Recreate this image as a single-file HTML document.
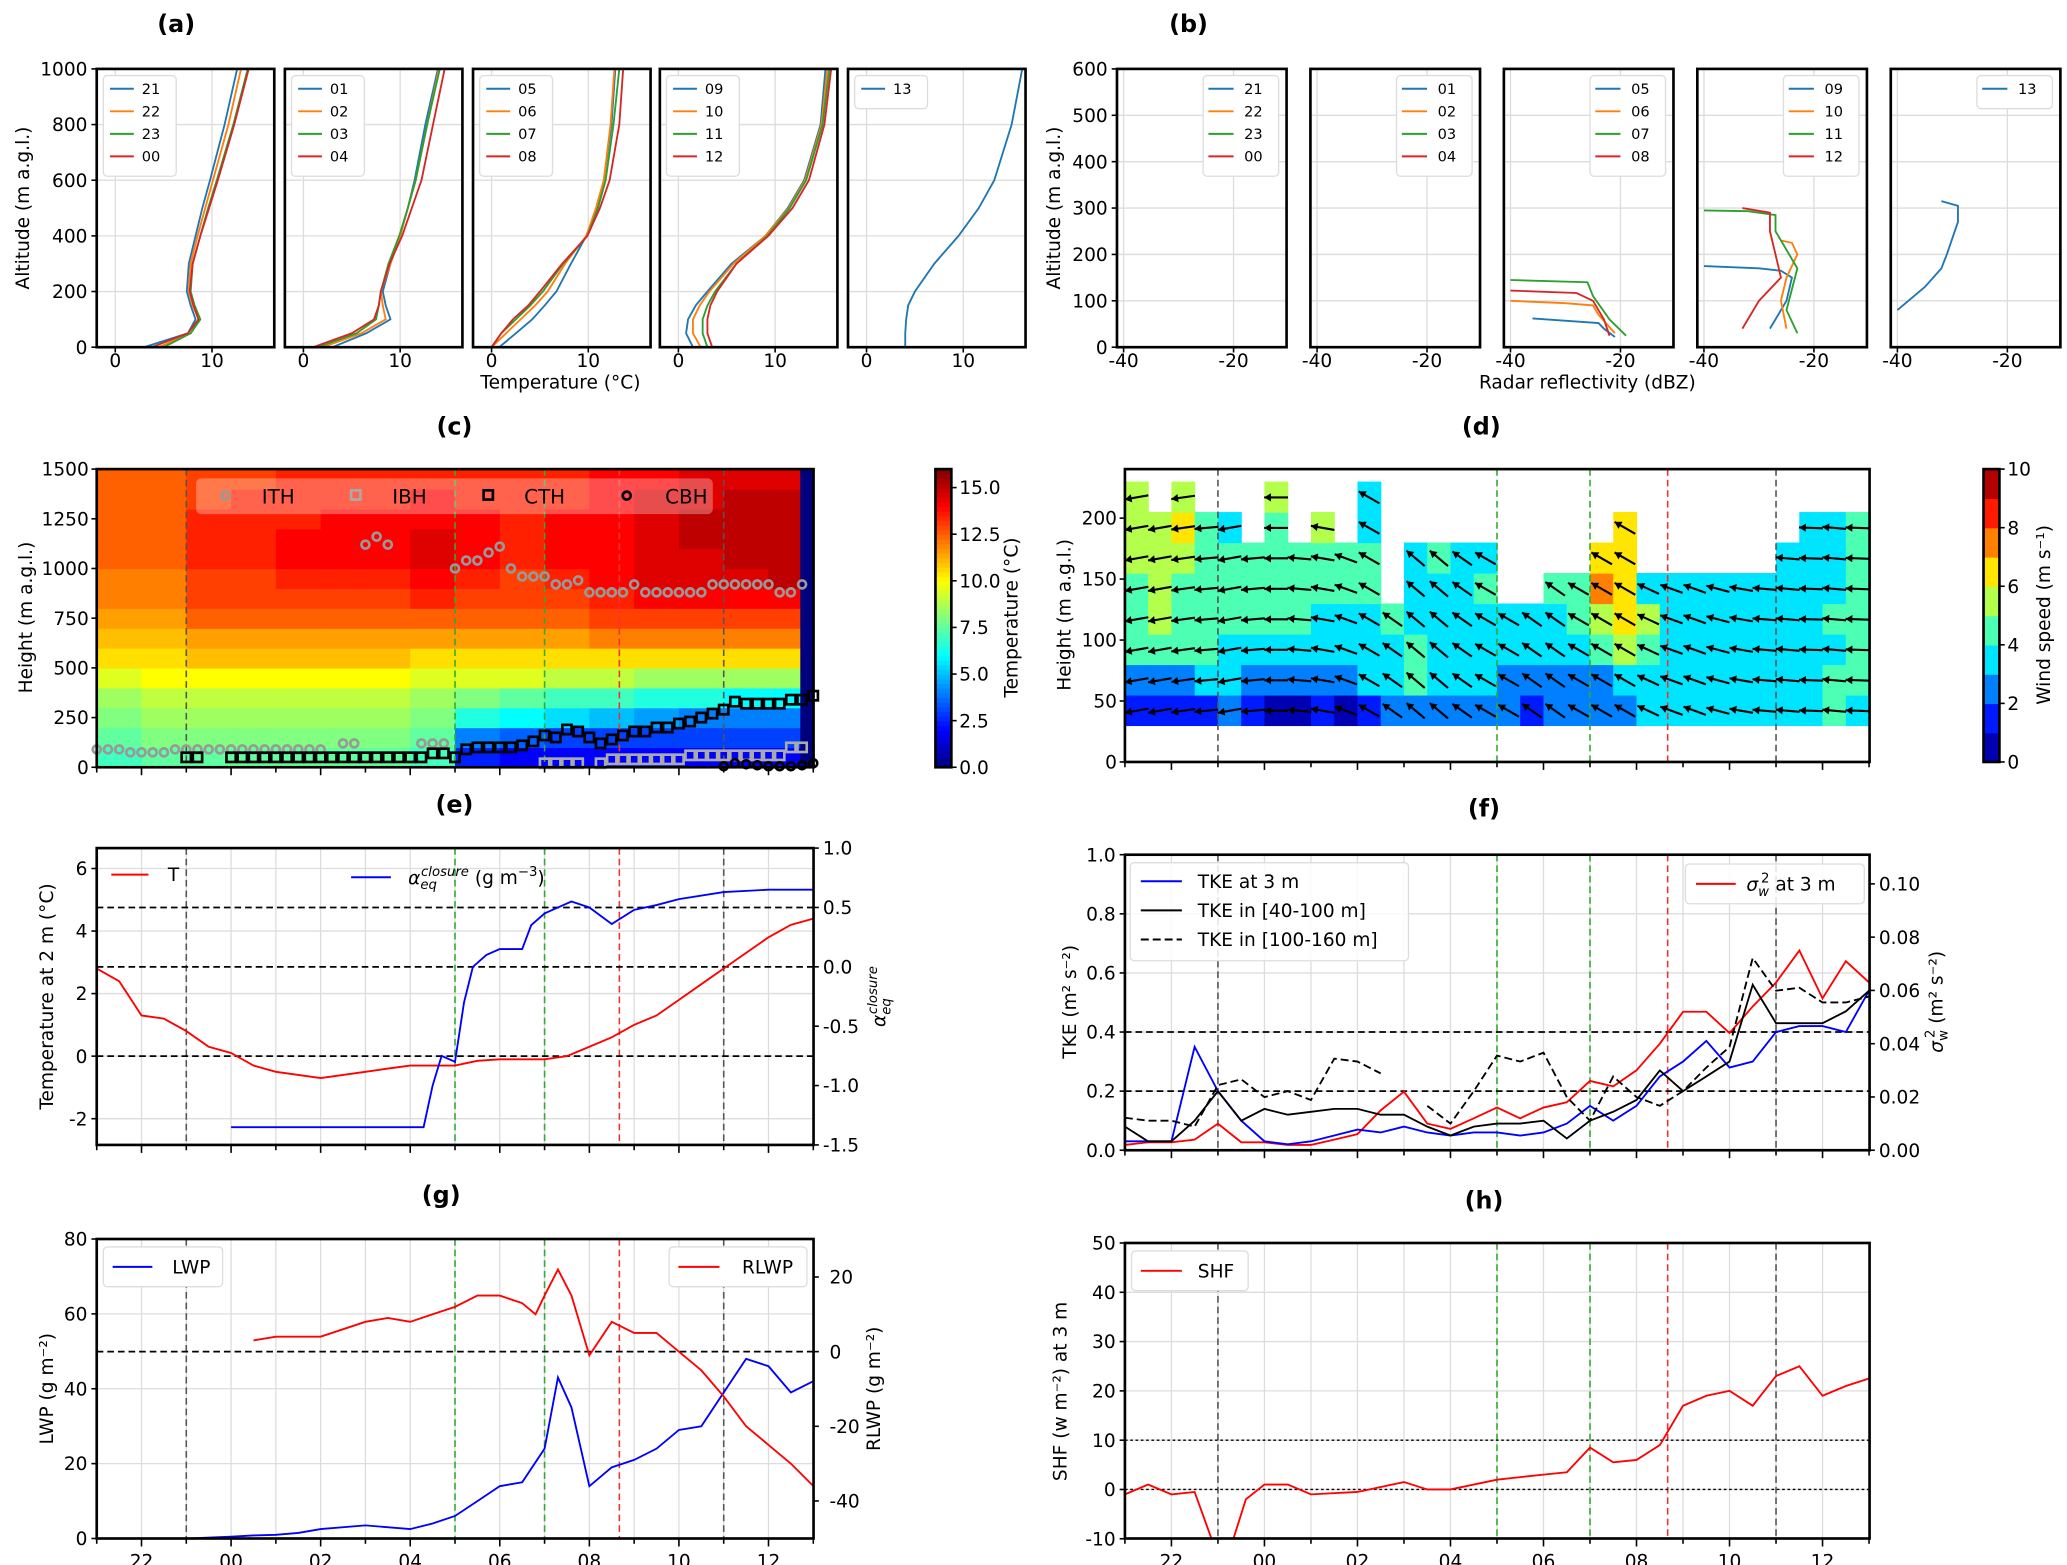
<!DOCTYPE html>
<html><head><meta charset="utf-8"><style>
html,body{margin:0;padding:0;background:#fff;}
svg{display:block;font-family:"DejaVu Sans","Liberation Sans",sans-serif;}
</style></head><body>
<svg id="chart" width="2067" height="1565" viewBox="0 0 1560 1181" preserveAspectRatio="none" xmlns="http://www.w3.org/2000/svg"></svg>
<script>
// ---------- data ----------
const aAlt=[0,50,100,150,200,300,400,500,600,800,1000];
const aLabels=[["21","22","23","00"],["01","02","03","04"],["05","06","07","08"],["09","10","11","12"],["13"]];
const aProf=[
 [[3,7.5,8.3,7.8,7.4,7.6,8.3,9,9.8,11.3,12.6],[4.5,7.8,8.6,8,7.6,7.8,8.5,9.3,10.1,11.7,13],[5,7.8,8.8,8.2,7.8,8,8.8,9.6,10.5,12.2,13.7],[3.8,7.5,8.6,8.1,7.7,8,8.8,9.7,10.6,12.3,13.8]],
 [[3,6.5,9,8.5,8.2,9,10,10.8,11.5,12.6,13.9],[2,6,8.5,8.2,8,9,10,10.8,11.6,12.8,14],[1.5,5.5,7.5,7.8,8,8.8,9.9,10.8,11.6,12.8,14.1],[1,5,7.3,7.8,8,8.9,10.2,11.2,12.2,13.4,14.6]],
 [[0.8,2.5,4.2,5.5,6.7,8.2,9.8,10.9,11.6,12.4,12.8],[0,1.5,3,4.5,5.8,7.6,9.8,10.8,11.6,12.3,12.7],[0,1,2.5,4,5.3,7.4,9.9,11,11.8,12.6,13.2],[0,1,2.2,3.8,5,7.3,9.9,11.2,12.2,13.2,13.6]],
 [[1.5,0.8,1,1.8,3,5.5,9,11.3,13,14.7,15.2],[2.3,1.5,1.5,2.2,3.2,5.7,9,11.4,13.1,14.8,15.4],[3,2.5,2.5,3,3.8,6,9.2,11.5,13.2,14.9,15.6],[3.5,3,3,3.3,4,6,9.3,11.8,13.5,15.1,15.8]],
 [[4,4,4.1,4.3,5,7,9.5,11.6,13.2,15,16.1]]
];
const bProf=[[],[],
 [[[-36,62],[-24,52],[-23,40],[-21,22]],[[-40,100],[-30,95],[-25,90],[-24,70],[-21,30]],[[-40,145],[-26,140],[-25,110],[-22,60],[-19,25]],[[-40,122],[-28,117],[-25,100],[-23,60],[-22,25]]],
 [[[-40,175],[-30,170],[-26,165],[-24,150],[-25,100],[-28,40]],[[-26,230],[-24,225],[-23,200],[-25,150],[-26,100],[-25,40]],[[-40,295],[-32,293],[-27,285],[-27,250],[-23,170],[-25,80],[-23,30]],[[-33,300],[-28,290],[-28,250],[-27,200],[-26,150],[-30,100],[-33,40]]],
 [[[-32,315],[-29,305],[-29,270],[-31,200],[-32,170],[-35,130],[-40,80]]]
];
// (c) temperature grid: rows bottom-up (100 m), columns hourly from 21:00
const cT=[
[7,7.5,7.5,7.5,7.5,7.5,7.5,7,2.5,2,2,2,2,2,2,2],
[7.5,8,8,8,8,8,8,7.5,4,3.5,3,3,3,3,3,3],
[8,8.5,8.5,8.5,8.5,8.5,8.5,8,6.5,6,5.5,5,4.5,4,4,4],
[8.5,9,9,9,9,9,9,8.5,8,7.5,7,7,6.5,6.5,6,6],
[9.5,10,10,10,10,10,10,9.5,9.5,9.5,9,9,8.5,8.5,8.5,8.5],
[10.5,10.5,11,11,11,11,11,10.5,10.5,10.5,10.5,10.5,10.5,10.5,10.5,10.5],
[11,11,11.5,11.5,11.5,11.5,11.5,11.5,11.5,11.5,11.5,12,12,12,12,12],
[11.5,11.5,12.5,12.5,12.5,12.5,12.5,12.5,12.5,12.5,12.5,13,13,13,13,13],
[12,12,13,13,13,13,13,13.5,13,13,13,13.5,14,14,14,14],
[12,12,13,13,13.5,13.5,13.5,14,13.5,13,13.5,14,14.5,14.5,14.5,15],
[12.5,12.5,13.5,13.5,14,14,14,14.5,14,13.5,14,14,14.5,14.5,15,15],
[12.5,12.5,13.5,13.5,14,14,14,14.5,14,13.5,14,14,14.5,15,15,15],
[12.5,12.5,13.5,13.5,13.5,14,14,14,14,13.5,14,14,14.5,15,15,15],
[12.5,12.5,13,13.5,13.5,13.5,13.5,14,13.5,13.5,13.5,14,14.5,14.5,15,15],
[12.5,12.5,13,13,13.5,13.5,13.5,13.5,13.5,13.5,13.5,14,14,14.5,14.5,14.5]];
const ithT=[21,21.25,21.5,21.75,22,22.25,22.5,22.75,23,23.25,23.5,23.75,0,0.25,0.5,0.75,1,1.25,1.5,1.75,2,2.5,2.75,3,3.25,3.5,4.25,4.5,4.75,5,5.25,5.5,5.75,6,6.25,6.5,6.75,7,7.25,7.5,7.75,8,8.25,8.5,8.75,9,9.25,9.5,9.75,10,10.25,10.5,10.75,11,11.25,11.5,11.75,12,12.25,12.5,12.75];
const ithH=[90,90,90,75,75,75,75,90,90,90,90,90,90,90,90,90,90,90,90,90,90,120,120,1120,1160,1120,120,120,120,1000,1040,1040,1080,1110,1000,960,960,960,920,920,940,880,880,880,880,920,880,880,880,880,880,880,920,920,920,920,920,920,880,880,920];
const ibhT=[7,7.25,7.5,7.75,8.25,8.5,8.75,9,9.25,9.5,9.75,10,10.25,10.5,10.75,11,11.25,11.5,11.75,12,12.25,12.5,12.75];
const ibhH=[20,20,20,20,20,40,40,40,40,40,40,40,60,60,60,60,60,60,60,60,60,100,100];
const cthT=[23,23.25,0,0.25,0.5,0.75,1,1.25,1.5,1.75,2,2.25,2.5,2.75,3,3.25,3.5,3.75,4,4.25,4.5,4.75,5,5.25,5.5,5.75,6,6.25,6.5,6.75,7,7.25,7.5,7.75,8,8.25,8.5,8.75,9,9.25,9.5,9.75,10,10.25,10.5,10.75,11,11.25,11.5,11.75,12,12.25,12.5,12.75,13];
const cthH=[50,50,50,50,50,50,50,50,50,50,50,50,50,50,50,50,50,50,50,50,70,70,50,90,100,100,100,100,110,130,160,150,190,180,150,120,140,160,180,180,200,200,220,230,250,270,290,330,320,320,320,320,340,340,360];
const cbhT=[11,11.25,11.5,11.75,12,12.25,12.5,12.75,13];
const cbhH=[5,20,15,10,5,5,5,10,20];
// (d) wind speed: 30 min columns from 21:00, 25 m bands from 30 m (-1 = no data)
const dSpd=[
[1.5,2.5,4.5,4.5,4.5,5.5,5.5,5.5],[1.5,2.5,4.5,5.5,5.5,5.5,5.5,-1],[1.5,2.5,4.5,4.5,4.5,5.5,6.5,5.5],[1.5,3.5,4.5,4.5,4.5,4.5,4.5,-1],
[2.5,3.5,3.5,4.5,4.5,4.5,3.5,-1],[1.5,2.5,3.5,4.5,4.5,4.5,-1,-1],[0.5,2.5,3.5,4.5,4.5,4.5,4.5,5.5],[0.5,2.5,3.5,4.5,4.5,4.5,-1,-1],
[1.5,2.5,3.5,3.5,4.5,4.5,5.5,-1],[0.5,2.5,3.5,3.5,4.5,4.5,-1,-1],[1.5,3.5,3.5,3.5,4.5,4.5,3.5,3.5],[2.5,3.5,3.5,4.5,-1,-1,-1,-1],
[2.5,4.5,4.5,3.5,3.5,3.5,-1,-1],[2.5,3.5,3.5,3.5,3.5,4.5,-1,-1],[2.5,3.5,3.5,3.5,3.5,3.5,-1,-1],[2.5,3.5,3.5,3.5,4.5,3.5,-1,-1],
[2.5,2.5,3.5,3.5,-1,-1,-1,-1],[1.5,2.5,3.5,3.5,-1,-1,-1,-1],[2.5,2.5,3.5,3.5,4.5,-1,-1,-1],[2.5,2.5,3.5,4.5,4.5,-1,-1,-1],
[2.5,2.5,4.5,5.5,7.5,6.5,-1,-1],[2.5,3.5,5.5,6.5,6.5,6.5,6.5,-1],[3.5,3.5,4.5,5.5,3.5,-1,-1,-1],[3.5,3.5,3.5,3.5,3.5,-1,-1,-1],
[3.5,3.5,3.5,3.5,3.5,-1,-1,-1],[3.5,3.5,3.5,3.5,3.5,-1,-1,-1],[3.5,3.5,3.5,3.5,3.5,-1,-1,-1],[3.5,3.5,3.5,3.5,3.5,-1,-1,-1],
[3.5,3.5,3.5,3.5,3.5,3.5,-1,-1],[3.5,3.5,3.5,3.5,3.5,3.5,3.5,-1],[4.5,4.5,3.5,4.5,3.5,3.5,3.5,-1],[3.5,4.5,4.5,4.5,4.5,4.5,4.5,-1]];
const dDir=[190,190,188,185,190,185,180,175,170,160,150,145,140,140,145,150,150,145,145,150,150,150,155,160,160,165,170,175,175,178,175,178];
// (e)
const eTt=[21,21.5,22,22.5,23,23.5,0,0.5,1,1.5,2,2.5,3,3.5,4,4.5,5,5.5,6,6.5,7,7.5,8,8.5,9,9.5,10,10.5,11,11.5,12,12.5,13];
const eT=[2.8,2.4,1.3,1.2,0.8,0.3,0.1,-0.3,-0.5,-0.6,-0.7,-0.6,-0.5,-0.4,-0.3,-0.3,-0.3,-0.15,-0.1,-0.1,-0.1,0,0.3,0.6,1.0,1.3,1.8,2.3,2.8,3.3,3.8,4.2,4.4];
const eAt=[0,4.3,4.5,4.7,5,5.2,5.4,5.7,6,6.5,6.7,7,7.3,7.6,8,8.5,9,9.5,10,11,12,13];
const eA=[-1.35,-1.35,-1.0,-0.75,-0.8,-0.3,0,0.1,0.15,0.15,0.35,0.45,0.5,0.55,0.5,0.36,0.48,0.52,0.57,0.63,0.65,0.65];
// (f)
const fT=[21,21.5,22,22.5,23,23.5,0,0.5,1,1.5,2,2.5,3,3.5,4,4.5,5,5.5,6,6.5,7,7.5,8,8.5,9,9.5,10,10.5,11,11.5,12,12.5,13];
const fTke3=[0.03,0.03,0.03,0.35,0.2,0.1,0.03,0.02,0.03,0.05,0.07,0.06,0.08,0.06,0.05,0.06,0.06,0.05,0.06,0.09,0.15,0.1,0.15,0.25,0.3,0.37,0.28,0.3,0.4,0.42,0.42,0.4,0.54];
const fTkeA=[0.08,0.03,0.03,0.1,0.2,0.1,0.14,0.12,0.13,0.14,0.14,0.12,0.12,0.08,0.05,0.08,0.09,0.09,0.1,0.04,0.1,0.13,0.17,0.27,0.2,0.25,0.3,0.56,0.43,0.43,0.43,0.47,0.54];
const fTkeB=[0.11,0.1,0.1,0.08,0.22,0.24,0.18,0.2,0.17,0.31,0.3,0.26,null,0.15,0.09,0.2,0.32,0.3,0.33,0.18,0.1,0.25,0.18,0.15,0.2,0.28,0.35,0.65,0.54,0.55,0.5,0.5,0.52];
const fSig=[0.002,0.003,0.003,0.004,0.01,0.003,0.003,0.002,0.002,0.004,0.006,0.015,0.022,0.01,0.008,0.012,0.016,0.012,0.016,0.018,0.026,0.024,0.03,0.04,0.052,0.052,0.044,0.054,0.063,0.075,0.057,0.071,0.063];
// (g)
const gLt=[21,22,23,0,0.5,1,1.5,2,3,4,4.5,5,5.5,6,6.5,7,7.3,7.6,8,8.5,9,9.5,10,10.5,11,11.5,12,12.5,13];
const gLWP=[0,0,0,0.5,0.8,1,1.5,2.5,3.5,2.5,4,6,10,14,15,24,43,35,14,19,21,24,29,30,39,48,46,39,42];
const gRt=[0.5,1,2,3,3.5,4,4.5,5,5.5,6,6.5,6.8,7,7.3,7.6,8,8.5,9,9.5,10,10.5,11,11.5,12,12.5,13];
const gRLWP=[3,4,4,8,9,8,10,12,15,15,13,10,15,22,15,-1,8,5,5,0,-5,-12,-20,-25,-30,-36];
// (h)
const hT=[21,21.5,22,22.5,22.9,23.3,23.6,0,0.5,1,2,3,3.5,4,5,6,6.5,7,7.5,8,8.5,9,9.5,10,10.5,11,11.5,12,12.5,13];
const hSHF=[-1,1,-1,-0.5,-11,-11,-2,1,1,-1,-0.5,1.5,0,0,2,3,3.5,8.5,5.5,6,9,17,19,20,17,23,25,19,21,22.5];
const markT=[23,5,7,8.67,11];
const markC=["#555","#3a3","#3a3","#e33","#555"];

// ---------- helpers ----------
const NS='http://www.w3.org/2000/svg';
const svg=document.getElementById('chart');
function mk(tag,attrs,parent,nm){
  const e=document.createElementNS(NS,tag);
  for(const k in attrs)e.setAttribute(k,attrs[k]);
  
  
  (parent||svg).appendChild(e);return e;}
function txt(x,y,s,o,nm){const t=mk('text',Object.assign({x:x,y:y,'font-size':14,'text-anchor':'middle',fill:'#000'},o||{}),null,nm||'label');t.textContent=s;return t;}
function hh(h){return h<20.5?h+24-21:h-21;}
function jet(v){v=Math.max(0,Math.min(1,v));
 const r=Math.max(0,Math.min(1,1.5-Math.abs(4*v-3))),g=Math.max(0,Math.min(1,1.5-Math.abs(4*v-2))),b=Math.max(0,Math.min(1,1.5-Math.abs(4*v-1)));
 return 'rgb('+Math.round(r*255)+','+Math.round(g*255)+','+Math.round(b*255)+')';}
function frame(x,y,w,h,nm){mk('rect',{x:x,y:y,width:w,height:h,fill:'none',stroke:'#000','stroke-width':2},null,nm);}
function line(pts,col,nm,o){let d='',pen=false;pts.forEach(p=>{if(p==null){pen=false;return;}d+=(pen?'L':'M')+p[0].toFixed(1)+','+p[1].toFixed(1);pen=true;});
 return mk('path',Object.assign({d:d,fill:'none',stroke:col,'stroke-width':1.4},o||{}),null,nm);}
function hgrid(x0,x1,y,nm){mk('line',{x1:x0,x2:x1,y1:y,y2:y,stroke:'#ddd','stroke-width':1},null,nm||'grid-line');}
function vgrid(x,y0,y1,nm){mk('line',{x1:x,x2:x,y1:y0,y2:y1,stroke:'#ddd','stroke-width':1},null,nm||'grid-line');}
function tick(x1,y1,x2,y2){mk('line',{x1:x1,y1:y1,x2:x2,y2:y2,stroke:'#000','stroke-width':1.2},null,'tick');}
function vmark(X,y0,y1){markT.forEach((t,i)=>{const x=X(hh(t));mk('line',{x1:x,x2:x,y1:y0,y2:y1,stroke:markC[i],'stroke-width':1.2,'stroke-dasharray':'5,3'},null,'event-marker-line');});}
function timeAxis(X,y0,y1,labels){for(let t=0;t<=16;t++){const x=X(t);tick(x,y1,x,y1+(t%2?6:4));}
 if(labels){["22","00","02","04","06","08","10","12"].forEach((s,i)=>txt(X(1+2*i),y1+22,s,{'font-size':14},'x-tick-label'));}}
const tc=['#1f77b4','#ff7f0e','#2ca02c','#d62728'];

// titles
[["(a)",133,24],["(b)",897,24],["(c)",343,328],["(d)",1118,328],["(e)",343,613],["(f)",1120,616],["(g)",333,908],["(h)",1120,912]].forEach(a=>txt(a[1],a[2],a[0],{'font-size':18,'font-weight':'bold'},'panel-title'));

// ---------- (a) ----------
const aX0=[73,215,357,498,640];
aX0.forEach((x0,si)=>{
 const X=v=>x0+14+v*7.3, Y=v=>262-v*0.21;
 [0,200,400,600,800,1000].forEach(v=>hgrid(x0,x0+134,Y(v)));
 [0,10].forEach(v=>{vgrid(X(v),52,262);tick(X(v),262,X(v),266);txt(X(v),277,String(v),{},'x-tick-label');});
 aProf[si].forEach((p,k)=>line(p.map((v,j)=>[X(v),Y(aAlt[j])]),tc[k],'temperature-profile-'+aLabels[si][k]));
 const n=aLabels[si].length;
 mk('rect',{x:x0+5,y:57,width:55,height:n*17+8,fill:'#fff',stroke:'#ddd',rx:3},null,'legend-box');
 aLabels[si].forEach((s,k)=>{mk('line',{x1:x0+10,x2:x0+28,y1:67+k*17,y2:67+k*17,stroke:tc[k],'stroke-width':1.5},null,'legend-swatch');txt(x0+34,71+k*17,s,{'font-size':11,'text-anchor':'start'},'legend-entry');});
 frame(x0,52,134,210,'profile-subplot-a'+si);
 if(si==0){[0,200,400,600,800,1000].forEach(v=>{tick(x0-4,Y(v),x0,Y(v));txt(x0-7,Y(v)+5,String(v),{'text-anchor':'end'},'y-tick-label');});}
});
txt(22,157,'Altitude (m a.g.l.)',{transform:'rotate(-90 22 157)','font-size':14},'y-axis-title-a');
txt(423,293,'Temperature (°C)',{'font-size':14},'x-axis-title-a');

// ---------- (b) ----------
const bX0=[843,989,1135,1281,1427];
const bLab=aLabels;
bX0.forEach((x0,si)=>{
 const X=v=>x0+5+(v+40)*4.15, Y=v=>262-v*0.35;
 [0,100,200,300,400,500,600].forEach(v=>hgrid(x0,x0+128,Y(v)));
 [-40,-20].forEach(v=>{vgrid(X(v),52,262);tick(X(v),262,X(v),266);txt(X(v),277,String(v),{},'x-tick-label');});
 bProf[si].forEach((p,k)=>line(p.map(q=>[X(q[0]),Y(q[1])]),tc[k],'reflectivity-profile-'+bLab[si][k]));
 const n=bLab[si].length;
 mk('rect',{x:x0+65,y:57,width:57,height:n*17+8,fill:'#fff',stroke:'#ddd',rx:3},null,'legend-box');
 bLab[si].forEach((s,k)=>{mk('line',{x1:x0+69,x2:x0+88,y1:67+k*17,y2:67+k*17,stroke:tc[k],'stroke-width':1.5},null,'legend-swatch');txt(x0+96,71+k*17,s,{'font-size':11,'text-anchor':'start'},'legend-entry');});
 frame(x0,52,128,210,'profile-subplot-b'+si);
 if(si==0){[0,100,200,300,400,500,600].forEach(v=>{tick(x0-4,Y(v),x0,Y(v));txt(x0-7,Y(v)+5,String(v),{'text-anchor':'end'},'y-tick-label');});}
});
txt(800,157,'Altitude (m a.g.l.)',{transform:'rotate(-90 800 157)'},'y-axis-title-b');
txt(1198,293,'Radar reflectivity  (dBZ)',{},'x-axis-title-b');

// ---------- (c) ----------
(function(){
 const X=t=>73+t*33.8, Y=v=>579-v*0.15;
 cT.forEach((row,r)=>row.forEach((v,c)=>{mk('rect',{x:X(c),y:Y((r+1)*100),width:34.3,height:15.5,fill:jet(v/16)},null,'temperature-cell');}));
 mk('rect',{x:604,y:354,width:10,height:225,fill:'#00007f'},null,'missing-data-strip');
 vmark(X,354,579);
 mk('rect',{x:148,y:361,width:390,height:27,fill:'#fff','fill-opacity':0.3,rx:4},null,'legend-box');
 ithT.forEach((t,i)=>mk('circle',{cx:X(hh(t)),cy:Y(ithH[i]),r:3,fill:'none',stroke:'#999','stroke-width':2},null,'ith-marker'));
 ibhT.forEach((t,i)=>mk('rect',{x:X(hh(t))-3.5,y:Y(ibhH[i])-3.5,width:7,height:7,fill:'none',stroke:'#aaa','stroke-width':2},null,'ibh-marker'));
 cthT.forEach((t,i)=>mk('rect',{x:X(hh(t))-3.5,y:Y(cthH[i])-3.5,width:7,height:7,fill:'none',stroke:'#000','stroke-width':2},null,'cth-marker'));
 cbhT.forEach((t,i)=>mk('circle',{cx:X(hh(t)),cy:Y(cbhH[i]),r:3,fill:'none',stroke:'#000','stroke-width':2},null,'cbh-marker'));
 mk('circle',{cx:170,cy:374,r:3,fill:'none',stroke:'#999','stroke-width':2},null,'legend-ith-marker');txt(210,380,'ITH',{'font-size':15},'legend-entry');
 mk('rect',{x:265,y:370,width:7,height:7,fill:'none',stroke:'#aaa','stroke-width':2},null,'legend-ibh-marker');txt(309,380,'IBH',{'font-size':15},'legend-entry');
 mk('rect',{x:365,y:370,width:7,height:7,fill:'none',stroke:'#000','stroke-width':2},null,'legend-cth-marker');txt(411,380,'CTH',{'font-size':15},'legend-entry');
 mk('circle',{cx:473,cy:374,r:3,fill:'none',stroke:'#000','stroke-width':2},null,'legend-cbh-marker');txt(518,380,'CBH',{'font-size':15},'legend-entry');
 frame(73,354,541,225,'heatmap-frame-c');
 [0,250,500,750,1000,1250,1500].forEach(v=>{tick(69,Y(v),73,Y(v));txt(67,Y(v)+5,String(v),{'text-anchor':'end'},'y-tick-label');});
 timeAxis(X,354,579,false);
 txt(24,466,'Height (m a.g.l.)',{transform:'rotate(-90 24 466)'},'y-axis-title-c');
 for(let i=0;i<64;i++){mk('rect',{x:706,y:579-(i+1)*225/64,width:12,height:225/64+0.5,fill:jet((i+0.5)/64)},null,'colorbar-cell');}
 frame(706,354,12,225,'colorbar-c');
 [0,2.5,5,7.5,10,12.5,15].forEach(v=>{const y=579-v*14.07;tick(718,y,722,y);txt(724,y+5,v.toFixed(1),{'text-anchor':'start'},'colorbar-tick-label');});
 txt(768,466,'Temperature (°C)',{transform:'rotate(-90 768 466)'},'colorbar-title-c');
})();

// ---------- (d) ----------
(function(){
 const X=t=>849+t*35.1, Y=v=>575-v*0.92;
 const dj=v=>jet((Math.floor(v)+0.5)/10);
 dSpd.forEach((col,c)=>col.forEach((v,b)=>{if(v<0)return;mk('rect',{x:X(c/2),y:Y(30+(b+1)*25),width:18,height:23.5,fill:dj(v)},null,'wind-speed-cell');}));
 vmark(X,354,575);
 dSpd.forEach((col,c)=>col.forEach((v,b)=>{if(v<0)return;const cx=X(c/2)+8.8,cy=Y(42+b*25),a=dDir[c]*Math.PI/180,L=9;
  const x2=cx+L*Math.cos(a),y2=cy-L*Math.sin(a),x1=cx-L*Math.cos(a),y1=cy+L*Math.sin(a);
  mk('line',{x1:x1,y1:y1,x2:x2,y2:y2,stroke:'#000','stroke-width':1.6},null,'wind-arrow');
  const h1=a+2.6,h2=a-2.6;
  mk('path',{d:'M'+x2+','+y2+'L'+(x2+6*Math.cos(h1))+','+(y2-6*Math.sin(h1))+'L'+(x2+6*Math.cos(h2))+','+(y2-6*Math.sin(h2))+'Z',fill:'#000'},null,'wind-arrow-head');}));
 frame(849,354,562,221,'wind-frame-d');
 [0,50,100,150,200].forEach(v=>{tick(845,Y(v),849,Y(v));txt(843,Y(v)+5,String(v),{'text-anchor':'end'},'y-tick-label');});
 timeAxis(X,354,575,false);
 txt(808,464,'Height (m a.g.l.)',{transform:'rotate(-90 808 464)'},'y-axis-title-d');
 for(let i=0;i<10;i++){mk('rect',{x:1497,y:575-(i+1)*22.1,width:12,height:22.6,fill:jet((i+0.5)/10)},null,'colorbar-cell');}
 frame(1497,354,12,221,'colorbar-d');
 [0,2,4,6,8,10].forEach(v=>{const y=575-v*22.1;tick(1509,y,1513,y);txt(1515,y+5,String(v),{'text-anchor':'start'},'colorbar-tick-label');});
 txt(1547,464,'Wind speed (m s⁻¹)',{transform:'rotate(-90 1547 464)'},'colorbar-title-d');
})();

// ---------- (e) ----------
(function(){
 const X=t=>73+t*33.8, YT=v=>797-v*23.6, YA=v=>640+(1-v)*89.6;
 for(let t=0;t<=16;t++)vgrid(X(t),640,864);
 [-2,0,2,4,6].forEach(v=>hgrid(73,614,YT(v)));
 vmark(X,640,864);
 [0.5,0].forEach(q=>mk('line',{x1:73,x2:614,y1:YA(q),y2:YA(q),stroke:'#000','stroke-width':1.3,'stroke-dasharray':'5,3'},null,'reference-line'));
 mk('line',{x1:73,x2:614,y1:YT(0),y2:YT(0),stroke:'#000','stroke-width':1.3,'stroke-dasharray':'5,3'},null,'reference-line');
 line(eTt.map((t,i)=>[X(hh(t)),YT(eT[i])]),'#f00','temperature-2m-line');
 line(eAt.map((t,i)=>[X(hh(t)),YA(eA[i])]),'#00f','alpha-closure-line');
 frame(73,640,541,224,'plot-frame-e');
 [-2,0,2,4,6].forEach(v=>{tick(69,YT(v),73,YT(v));txt(66,YT(v)+5,String(v),{'text-anchor':'end'},'y-tick-label');});
 [1.0,0.5,0.0,-0.5,-1.0,-1.5].forEach(v=>{tick(614,YA(v),618,YA(v));txt(621,YA(v)+5,v.toFixed(1),{'text-anchor':'start'},'y2-tick-label');});
 timeAxis(X,640,864,false);
 mk('line',{x1:84,x2:112,y1:660,y2:660,stroke:'#f00','stroke-width':1.5},null,'legend-swatch');txt(131,665,'T',{'font-size':14},'legend-entry');
 mk('line',{x1:265,x2:295,y1:662,y2:662,stroke:'#00f','stroke-width':1.5},null,'legend-swatch');
 const t=txt(308,667,'',{'text-anchor':'start','font-size':14},'legend-entry');
 t.innerHTML='<tspan font-style="italic">α</tspan><tspan font-size="10" dy="4" font-style="italic">eq</tspan><tspan font-size="10" dy="-10" dx="-12" font-style="italic">closure</tspan><tspan dy="6"> (g m</tspan><tspan font-size="10" dy="-6">−3</tspan><tspan dy="6">)</tspan>';
 txt(40,752,'Temperature at 2 m (°C)',{transform:'rotate(-90 40 752)'},'y-axis-title-e');
 const t2=txt(668,752,'',{transform:'rotate(-90 668 752)'},'y2-axis-title-e');
 t2.innerHTML='<tspan font-style="italic">α</tspan><tspan font-size="10" dy="4" font-style="italic">eq</tspan><tspan font-size="10" dy="-10" dx="-12" font-style="italic">closure</tspan>';
})();

// ---------- (f) ----------
(function(){
 const X=t=>849+t*35.1, Y=v=>868-v*223, YS=v=>868-v*2010;
 for(let t=0;t<=16;t++)vgrid(X(t),645,868);
 [0.2,0.4,0.6,0.8].forEach(v=>hgrid(849,1411,Y(v)));
 vmark(X,645,868);
 [0.2,0.4].forEach(v=>mk('line',{x1:849,x2:1411,y1:Y(v),y2:Y(v),stroke:'#000','stroke-width':1.3,'stroke-dasharray':'5,3'},null,'reference-line'));
 line(fT.map((t,i)=>[X(hh(t)),YS(fSig[i])]),'#f00','sigma-w2-line');
 line(fT.map((t,i)=>[X(hh(t)),Y(fTke3[i])]),'#00f','tke-3m-line');
 line(fT.map((t,i)=>[X(hh(t)),Y(fTkeA[i])]),'#000','tke-40-100m-line');
 line(fT.map((t,i)=>fTkeB[i]==null?null:[X(hh(t)),Y(fTkeB[i])]),'#000','tke-100-160m-line',{'stroke-dasharray':'6,3'});
 frame(849,645,562,223,'plot-frame-f');
 [0,0.2,0.4,0.6,0.8,1.0].forEach(v=>{tick(845,Y(v),849,Y(v));txt(842,Y(v)+5,v.toFixed(1),{'text-anchor':'end'},'y-tick-label');});
 [0,0.02,0.04,0.06,0.08,0.10].forEach(v=>{tick(1411,YS(v),1415,YS(v));txt(1418,YS(v)+5,v.toFixed(2),{'text-anchor':'start'},'y2-tick-label');});
 timeAxis(X,645,868,false);
 mk('rect',{x:853,y:651,width:210,height:74,fill:'#fff','fill-opacity':0.85,stroke:'#ddd',rx:3},null,'legend-box');
 [['#00f','TKE at 3 m',''],['#000','TKE in [40-100 m]',''],['#000','TKE in [100-160 m]','6,3']].forEach((q,k)=>{mk('line',{x1:861,x2:892,y1:665+k*22,y2:665+k*22,stroke:q[0],'stroke-width':1.5,'stroke-dasharray':q[2]||'none'},null,'legend-swatch');txt(904,670+k*22,q[1],{'text-anchor':'start'},'legend-entry');});
 mk('rect',{x:1272,y:652,width:135,height:30,fill:'#fff','fill-opacity':0.85,stroke:'#ddd',rx:3},null,'legend-box');
 mk('line',{x1:1280,x2:1310,y1:667,y2:667,stroke:'#f00','stroke-width':1.5},null,'legend-swatch');
 const s=txt(1318,672,'',{'text-anchor':'start'},'legend-entry');s.innerHTML='<tspan font-style="italic">σ</tspan><tspan font-size="10" dy="4" font-style="italic">w</tspan><tspan font-size="10" dy="-10" dx="-6">2</tspan><tspan dy="6"> at 3 m</tspan>';
 txt(812,756,'TKE (m² s⁻²)',{transform:'rotate(-90 812 756)'},'y-axis-title-f');
 const s2=txt(1466,756,'',{transform:'rotate(-90 1466 756)'},'y2-axis-title-f');s2.innerHTML='<tspan font-style="italic">σ</tspan><tspan font-size="10" dy="4">w</tspan><tspan font-size="10" dy="-10" dx="-6">2</tspan><tspan dy="6"> (m² s⁻²)</tspan>';
})();

// ---------- (g) ----------
(function(){
 const X=t=>73+t*33.8, Y=v=>1161-v*2.825, YR=v=>1020-v*2.817;
 for(let t=0;t<=16;t++)vgrid(X(t),935,1161);
 [20,40,60].forEach(v=>hgrid(73,614,Y(v)));
 vmark(X,935,1161);
 mk('line',{x1:73,x2:614,y1:YR(0),y2:YR(0),stroke:'#000','stroke-width':1.3,'stroke-dasharray':'5,3'},null,'reference-line');
 line(gLt.map((t,i)=>[X(hh(t)),Y(gLWP[i])]),'#00f','lwp-line');
 line(gRt.map((t,i)=>[X(hh(t)),YR(gRLWP[i])]),'#f00','rlwp-line');
 frame(73,935,541,226,'plot-frame-g');
 [0,20,40,60,80].forEach(v=>{tick(69,Y(v),73,Y(v));txt(66,Y(v)+5,String(v),{'text-anchor':'end'},'y-tick-label');});
 [20,0,-20,-40].forEach(v=>{tick(614,YR(v),618,YR(v));txt(626,YR(v)+5,String(v),{'text-anchor':'start'},'y2-tick-label');});
 timeAxis(X,935,1161,true);
 mk('rect',{x:78,y:941,width:90,height:30,fill:'#fff',stroke:'#ddd',rx:3},null,'legend-box');
 mk('line',{x1:85,x2:115,y1:956,y2:956,stroke:'#00f','stroke-width':1.5},null,'legend-swatch');txt(130,961,'LWP',{'text-anchor':'start'},'legend-entry');
 mk('rect',{x:505,y:941,width:104,height:30,fill:'#fff',stroke:'#ddd',rx:3},null,'legend-box');
 mk('line',{x1:512,x2:543,y1:956,y2:956,stroke:'#f00','stroke-width':1.5},null,'legend-swatch');txt(560,961,'RLWP',{'text-anchor':'start'},'legend-entry');
 txt(40,1048,'LWP (g m⁻²)',{transform:'rotate(-90 40 1048)'},'y-axis-title-g');
 txt(664,1048,'RLWP (g m⁻²)',{transform:'rotate(-90 664 1048)'},'y2-axis-title-g');
})();

// ---------- (h) ----------
(function(){
 const X=t=>849+t*35.1, Y=v=>1124-v*3.72;
 for(let t=0;t<=16;t++)vgrid(X(t),938,1161);
 [-10,0,10,20,30,40].forEach(v=>hgrid(849,1411,Y(v)));
 vmark(X,938,1161);
 [0,10].forEach(v=>mk('line',{x1:849,x2:1411,y1:Y(v),y2:Y(v),stroke:'#000','stroke-width':1,'stroke-dasharray':'2,2'},null,'reference-line'));
 mk('clipPath',{id:'clipH'},null,'clip');
 document.getElementById('clipH').appendChild(mk('rect',{x:849,y:938,width:562,height:223},null,'clip-rect'));
 line(hT.map((t,i)=>[X(hh(t)),Y(hSHF[i])]),'#f00','shf-line',{'clip-path':'url(#clipH)'});
 frame(849,938,562,223,'plot-frame-h');
 [-10,0,10,20,30,40,50].forEach(v=>{tick(845,Y(v),849,Y(v));txt(842,Y(v)+5,String(v),{'text-anchor':'end'},'y-tick-label');});
 timeAxis(X,938,1161,true);
 mk('rect',{x:854,y:944,width:88,height:30,fill:'#fff',stroke:'#ddd',rx:3},null,'legend-box');
 mk('line',{x1:861,x2:892,y1:959,y2:959,stroke:'#f00','stroke-width':1.5},null,'legend-swatch');txt(904,964,'SHF',{'text-anchor':'start'},'legend-entry');
 txt(805,1050,'SHF (w m⁻²) at 3 m',{transform:'rotate(-90 805 1050)'},'y-axis-title-h');
})();
</script>
</body></html>
